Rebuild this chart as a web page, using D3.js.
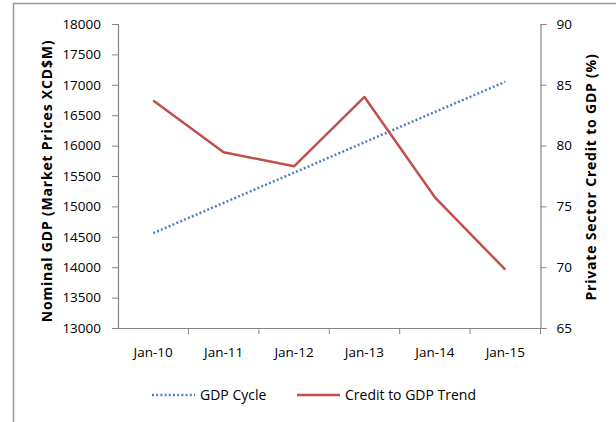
<!DOCTYPE html>
<html>
<head>
<meta charset="utf-8">
<script src="https://cdn.jsdelivr.net/npm/d3@7"></script>
<style>
  body { margin: 0; background: #fff; }
  svg text { font-family: "Open Sans", "Liberation Sans", sans-serif; fill: #000; }
</style>
</head>
<body>
<svg width="616" height="422"></svg>
<script>
// chart data
var categories = ["Jan-10", "Jan-11", "Jan-12", "Jan-13", "Jan-14", "Jan-15"];
var gdpCycle = [14560, 15058, 15555, 16055, 16553, 17050];
var creditTrend = [83.7, 79.45, 78.3, 84.0, 75.75, 69.8];
var leftTicks = [13000, 13500, 14000, 14500, 15000, 15500, 16000, 16500, 17000, 17500, 18000];
var rightTicks = [65, 70, 75, 80, 85, 90];

var svg = d3.select("svg");
var axisColor = "#868686";

// outer frame (only top + left visible)
svg.append("path")
  .attr("d", "M13.5,422V3.5H616")
  .attr("fill", "none")
  .attr("stroke", "#999")
  .attr("stroke-width", 1.5);

// plot box (note: "top" is reserved on window, so use other names)
var plotL = 118, plotR = 540.5, plotT = 24, plotB = 328;

var x = d3.scaleBand().domain(categories).range([plotL, plotR]);
var yL = d3.scaleLinear().domain([13000, 18000]).range([plotB, plotT]);
var yR = d3.scaleLinear().domain([65, 90]).range([plotB, plotT]);

// left axis
var gl = svg.append("g").attr("transform", "translate(" + plotL + ",0)")
  .call(d3.axisLeft(yL).tickValues(leftTicks).tickFormat(d3.format("d")).tickSize(6).tickPadding(11));
// right axis
var gr = svg.append("g").attr("transform", "translate(" + plotR + ",0)")
  .call(d3.axisRight(yR).tickValues(rightTicks).tickSize(6).tickPadding(10));
// bottom axis with ticks at band edges
var gb = svg.append("g").attr("transform", "translate(0," + plotB + ")")
  .call(d3.axisBottom(x).tickSize(0).tickPadding(19));
gb.selectAll(".edge")
  .data(categories)
  .enter().append("line")
  .attr("x1", function (d) { return x(d) + x.bandwidth(); })
  .attr("x2", function (d) { return x(d) + x.bandwidth(); })
  .attr("y1", 0).attr("y2", 6)
  .attr("stroke", axisColor);
gb.select(".domain").attr("d", "M" + (plotL - 6) + ",0.5H" + plotR);

[gl, gr, gb].forEach(function (g) {
  g.selectAll(".domain").attr("stroke", axisColor).attr("stroke-width", 1.2);
  g.selectAll(".tick line").attr("stroke", axisColor);
  g.selectAll("text").style("font-size", "13.5px").attr("fill", "#000");
});

// lines
var cx = function (d, i) { return x(categories[i]) + x.bandwidth() / 2; };

svg.append("path")
  .datum(gdpCycle)
  .attr("fill", "none")
  .attr("stroke", "#4F81BD")
  .attr("stroke-width", 2.5)
  .attr("stroke-dasharray", "2,2.2")
  .attr("d", d3.line().x(cx).y(function (d) { return yL(d); }));

svg.append("path")
  .datum(creditTrend)
  .attr("fill", "none")
  .attr("stroke", "#C0504D")
  .attr("stroke-width", 2.5)
  .attr("stroke-linejoin", "round")
  .attr("d", d3.line().x(cx).y(function (d) { return yR(d); }));

// axis titles
svg.append("text")
  .attr("transform", "translate(52,181) rotate(-90)")
  .attr("text-anchor", "middle")
  .style("font-size", "14px")
  .style("letter-spacing", "0.8px")
  .style("font-weight", "bold")
  .text("Nominal GDP (Market Prices XCD$M)");

svg.append("text")
  .attr("transform", "translate(596,177) rotate(-90)")
  .attr("text-anchor", "middle")
  .style("font-size", "14px")
  .style("letter-spacing", "0.8px")
  .style("font-weight", "bold")
  .text("Private Sector Credit to GDP (%)");

// legend
var legend = [
  { name: "GDP Cycle", color: "#4F81BD", dash: "2,2.2", x: 152 },
  { name: "Credit to GDP Trend", color: "#C0504D", dash: null, x: 297 }
];
var lg = svg.append("g").selectAll("g").data(legend).enter().append("g")
  .attr("transform", function (d) { return "translate(" + d.x + ",395)"; });
lg.append("line")
  .attr("x1", 0).attr("x2", 43).attr("y1", 0).attr("y2", 0)
  .attr("stroke", function (d) { return d.color; })
  .attr("stroke-width", 2.5)
  .attr("stroke-dasharray", function (d) { return d.dash; });
lg.append("text")
  .attr("x", 48).attr("dy", "0.35em")
  .style("font-size", "14px")
  .text(function (d) { return d.name; });
</script>
</body>
</html>
